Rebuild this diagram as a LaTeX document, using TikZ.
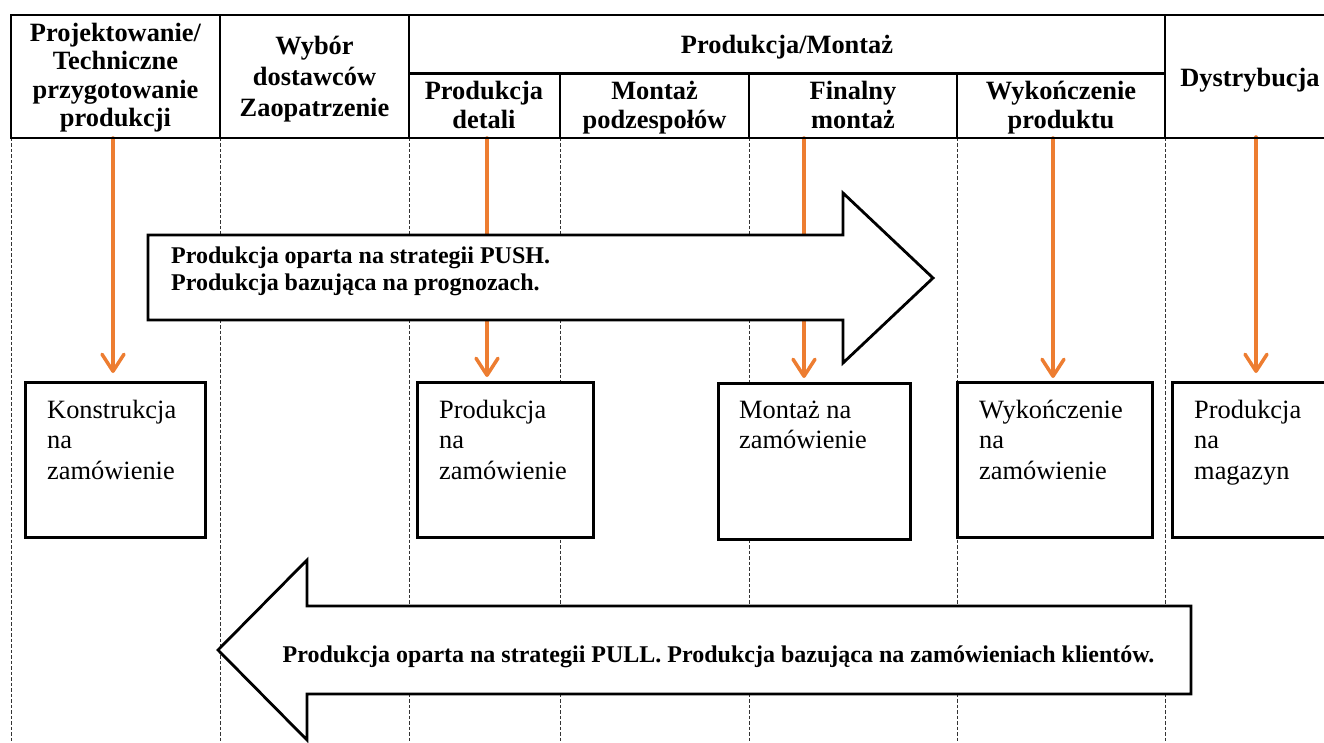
\documentclass[tikz,border=0pt]{standalone}
\usepackage{fontspec}
\setmainfont{Liberation Serif}
\usetikzlibrary{arrows.meta}
\definecolor{orangeA}{HTML}{ED7D31}
\begin{document}
\begin{tikzpicture}[x=1pt,y=-1pt,
  tline/.style={line width=2.6pt, line cap=rect},
  dline/.style={line width=1pt, black!80, dash pattern=on 3.5pt off 2pt},
  hdr/.style={font=\bfseries\fontsize{26.4}{28.3}\selectfont, align=center, inner sep=0pt, anchor=base},
  hdrwide/.style={hdr, font=\bfseries\fontsize{26.4}{30.8}\selectfont},
  box/.style={draw, line width=3pt, fill=white, inner sep=0pt, outer sep=0pt, anchor=north west},
  boxtext/.style={font=\fontsize{26.4}{30.5}\selectfont, align=left, inner sep=0pt, anchor=base west},
  oarrow/.style={draw=orangeA, line width=3.5pt, line cap=round, -{Straight Barb[length=17pt,width=22pt,round]}},
  bigarrow/.style={draw, line width=2.8pt, fill=white, line join=miter},
  arrtext/.style={font=\bfseries\fontsize{24}{27}\selectfont, align=left, inner sep=0pt}
]
\useasboundingbox (0,0) rectangle (1324,743);
\clip (0,0) rectangle (1324,743);

% dashed column lines
\foreach \cx in {11,220,409,560,749,957,1165}
  \draw[dline] (\cx,138) -- (\cx,745);

% boxes (named, placed first so arrows can refer to them)
\node[box, minimum width=180pt, minimum height=155pt] (b1) at (25,382) {};
\node[box, minimum width=176pt, minimum height=155pt] (b2) at (417,382) {};
\node[box, minimum width=192pt, minimum height=156pt] (b3) at (718,383) {};
\node[box, minimum width=195pt, minimum height=155pt] (b4) at (957,382) {};
\node[box, minimum width=220pt, minimum height=155pt] (b5) at (1172,382) {};

% header anchor points of orange arrows
\coordinate (h1) at (113,138);
\coordinate (h2) at (487,138);
\coordinate (h3) at (804,138);
\coordinate (h4) at (1053,138);
\coordinate (h5) at (1256,137);

\draw[oarrow, shorten >=9pt] (h1) -- (h1 |- b1.north);
\draw[oarrow, shorten >=5pt] (h2) -- (h2 |- b2.north);
\draw[oarrow, shorten >=5pt] (h3) -- (h3 |- b3.north);
\draw[oarrow, shorten >=4pt] (h4) -- (h4 |- b4.north);
\draw[oarrow, shorten >=9pt] (h5) -- (h5 |- b5.north);

% PUSH arrow
\draw[bigarrow] (148,235) -- (843,235) -- (843,193) -- (933,278) -- (843,363) -- (843,320) -- (148,320) -- cycle;
\node[arrtext, anchor=base west] (pushtxt) at (171,290) {Produkcja oparta na strategii PUSH.\\Produkcja bazująca na prognozach.};

% PULL arrow
\draw[bigarrow] (1191,606) -- (307,606) -- (307,560) -- (218,650) -- (307,740) -- (307,694) -- (1191,694) -- cycle;
\node[arrtext, anchor=base] (pulltxt) at (718.5,662) {Produkcja oparta na strategii PULL. Produkcja bazująca na zamówieniach klientów.};

% box texts (anchor = baseline of the last line)
\node[boxtext] (bt1) at ([xshift=22pt,yshift=-97pt]b1.north west) {Konstrukcja\\na\\zamówienie};
\node[boxtext] (bt2) at ([xshift=22pt,yshift=-97pt]b2.north west) {Produkcja\\na\\zamówienie};
\node[boxtext] (bt3) at ([xshift=21pt,yshift=-65.5pt]b3.north west) {Montaż na\\zamówienie};
\node[boxtext] (bt4) at ([xshift=22pt,yshift=-97pt]b4.north west) {Wykończenie\\na\\zamówienie};
\node[boxtext] (bt5) at ([xshift=22pt,yshift=-97pt]b5.north west) {Produkcja\\na\\magazyn};

% header table
\draw[tline] (11,15) -- (1340,15);
\draw[tline] (11,138) -- (1340,138);
\foreach \cx in {11,220,409,1165}
  \draw[tline] (\cx,15) -- (\cx,138);
\draw[tline] (409,73.5) -- (1165,73.5);
\foreach \cx in {560,749,957}
  \draw[tline] (\cx,73.5) -- (\cx,138);

% header texts (anchor = baseline of the last line)
\node[hdr] (t1) at (115.5,126.6) {Projektowanie/\\Techniczne\\przygotowanie\\produkcji};
\node[hdrwide] (t2) at (314.5,116.6) {Wybór\\dostawców\\Zaopatrzenie};
\node[hdr] (t3) at (787,53.3) {Produkcja/Montaż};
\node[hdr] (t4) at (484,128.3) {Produkcja\\detali};
\node[hdr] (t5) at (654.5,128.3) {Montaż\\podzespołów};
\node[hdr] (t6) at (853,128.3) {Finalny\\montaż};
\node[hdr] (t7) at (1061,128.3) {Wykończenie\\produktu};
\node[hdr] (t8) at (1250,87) {Dystrybucja};
\end{tikzpicture}
\end{document}
